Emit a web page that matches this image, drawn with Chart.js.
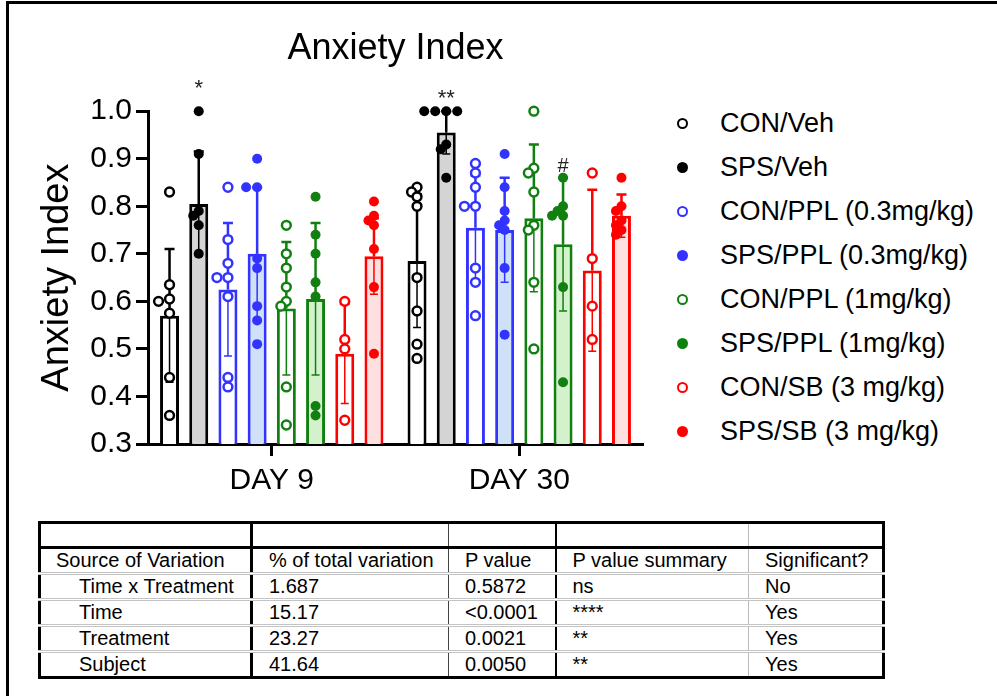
<!DOCTYPE html>
<html>
<head>
<meta charset="utf-8">
<script src="https://cdn.jsdelivr.net/npm/chart.js@4.4.0/dist/chart.umd.min.js"></script>
<style>
  body { margin: 0; background: #fff; font-family: "Liberation Sans", Arial, sans-serif; color: #000; }
  #frame { position: absolute; left: 6px; top: 1px; width: 1000px; height: 720px; border-left: 3px solid #000; border-top: 3px solid #000; }
  #chart { position: absolute; left: 0; top: 0; }
  #legend { position: absolute; left: 677px; top: 101px; }
  .item { height: 44.1px; display: flex; align-items: center; font-size: 27px; white-space: nowrap; }
  .dot { width: 7px; height: 7px; border-radius: 50%; border: 2.5px solid; margin-right: 32px; }
  #stats { position: absolute; left: 38px; top: 521px; border-collapse: collapse; table-layout: fixed; font-size: 20px; border: 3px solid #000; }
  #stats td { padding: 0 0 0 16px; height: 23px; white-space: nowrap; border-bottom: 3px double #c4c4c4; }
  #stats tr.blank td { height: 22px; border-bottom: 3px solid #000; }
  #stats tr:last-child td { border-bottom: 3px solid #000; }
  #stats td.c0 { border-right: 3px solid #000; padding-left: 15px; }
  #stats td.c1 { border-right: 1.5px solid #444; }
  #stats td.c2 { border-right: 2px solid #000; }
  #stats td.c3 { border-right: 1px solid #bbb; }
  #stats td.indent { padding-left: 38px; }
</style>
</head>
<body>
<div id="frame"></div>
<canvas id="chart" width="660" height="510"></canvas>
<div id="legend"></div>
<table id="stats"></table>
<script>
const categories = ["DAY 9", "DAY 30"];
const seriesNames = [
  "CON/Veh", "SPS/Veh",
  "CON/PPL (0.3mg/kg)", "SPS/PPL (0.3mg/kg)",
  "CON/PPL (1mg/kg)", "SPS/PPL (1mg/kg)",
  "CON/SB (3 mg/kg)", "SPS/SB (3 mg/kg)"
];
const lineColors = ["#000000", "#000000", "#3333ff", "#3333ff", "#118011", "#118011", "#ff0000", "#ff0000"];
const barFills = ["#ffffff", "#d4d4d4", "#ffffff", "#cfe0f9", "#ffffff", "#d3f2cc", "#ffffff", "#ffe0e0"];
const openMarker = [true, false, true, false, true, false, true, false];

// mean per series: [DAY 9, DAY 30]
const means = [
  [0.57, 0.685],
  [0.805, 0.955],
  [0.625, 0.755],
  [0.70, 0.75],
  [0.585, 0.775],
  [0.605, 0.72],
  [0.49, 0.665],
  [0.695, 0.78]
];
// SD per series: [DAY 9, DAY 30]
const sds = [
  [0.14, 0.14],
  [0.11, 0.045],
  [0.14, 0.11],
  [0.14, 0.11],
  [0.14, 0.155],
  [0.16, 0.14],
  [0.105, 0.17],
  [0.08, 0.045]
];
// individual animals per series: [DAY 9 values, DAY 30 values]
const individuals = [
  [[0.83, 0.635, 0.605, 0.60, 0.575, 0.44, 0.36], [0.84, 0.83, 0.82, 0.80, 0.65, 0.58, 0.51, 0.48]],
  [[1.0, 0.91, 0.79, 0.78, 0.76, 0.70], [1.0, 1.0, 1.0, 1.0, 0.93, 0.92, 0.86]],
  [[0.84, 0.73, 0.68, 0.65, 0.65, 0.61, 0.44, 0.42], [0.89, 0.87, 0.84, 0.80, 0.80, 0.67, 0.64, 0.57]],
  [[0.90, 0.84, 0.84, 0.69, 0.67, 0.59, 0.56, 0.51], [0.91, 0.84, 0.79, 0.77, 0.76, 0.75, 0.67, 0.53]],
  [[0.76, 0.70, 0.67, 0.63, 0.60, 0.59, 0.42, 0.34], [1.0, 0.88, 0.87, 0.83, 0.76, 0.75, 0.64, 0.50]],
  [[0.82, 0.74, 0.70, 0.64, 0.61, 0.38, 0.36], [0.86, 0.80, 0.79, 0.78, 0.78, 0.63, 0.43]],
  [[0.60, 0.52, 0.50, 0.35], [0.87, 0.69, 0.59, 0.52]],
  [[0.81, 0.78, 0.77, 0.76, 0.71, 0.63, 0.49], [0.86, 0.80, 0.79, 0.77, 0.76, 0.75, 0.74]]
];
// significance marks (value = text baseline on y axis)
const marks = [
  { series: 1, cat: 0, text: "*", value: 1.035 },
  { series: 1, cat: 1, text: "**", value: 1.014 },
  { series: 5, cat: 1, text: "#", value: 0.872 }
];

const tableHeader = ["Source of Variation", "% of total variation", "P value", "P value summary", "Significant?"];
const tableRows = [
  ["Time x Treatment", "1.687", "0.5872", "ns", "No"],
  ["Time", "15.17", "<0.0001", "****", "Yes"],
  ["Treatment", "23.27", "0.0021", "**", "Yes"],
  ["Subject", "41.64", "0.0050", "**", "Yes"]
];
const colWidths = [212, 197, 107, 193, 135];

Chart.defaults.font.family = '"Liberation Sans", Arial, sans-serif';
Chart.defaults.color = "#000";

// error bars, scattered individual points and significance marks
const overlayPlugin = {
  id: "overlay",
  afterDatasetsDraw(chart) {
    const { ctx } = chart;
    const y = chart.scales.y;
    chart.data.datasets.forEach((ds, k) => {
      const meta = chart.getDatasetMeta(k);
      meta.data.forEach((bar, i) => {
        const cx = bar.x;
        const yHi = y.getPixelForValue(means[k][i] + sds[k][i]);
        const yLo = y.getPixelForValue(means[k][i] - sds[k][i]);
        const yM = y.getPixelForValue(means[k][i]);
        ctx.save();
        ctx.strokeStyle = lineColors[k];
        ctx.lineWidth = 2.5;
        ctx.beginPath();
        ctx.moveTo(cx, yM); ctx.lineTo(cx, yHi);
        ctx.moveTo(cx - 5, yHi); ctx.lineTo(cx + 5, yHi);
        ctx.stroke();
        ctx.lineWidth = 1.5;
        ctx.beginPath();
        ctx.moveTo(cx, yM); ctx.lineTo(cx, yLo);
        ctx.moveTo(cx - 4, yLo); ctx.lineTo(cx + 4, yLo);
        ctx.stroke();

        // simple beeswarm so close values spread sideways
        const placed = [];
        individuals[k][i].forEach((v) => {
          const py = y.getPixelForValue(v);
          let off = 0;
          for (let n = 0; n < 15; n++) {
            const cand = n === 0 ? 0 : (n % 2 ? -1 : 1) * Math.ceil(n / 2) * 5.5;
            if (placed.every((p) => Math.hypot(p.x - cand, p.y - py) >= 6)) {
              off = cand;
              break;
            }
          }
          placed.push({ x: off, y: py });
          ctx.beginPath();
          ctx.arc(cx + off, py, openMarker[k] ? 4.4 : 5, 0, Math.PI * 2);
          if (openMarker[k]) {
            ctx.fillStyle = "#fff";
            ctx.fill();
            ctx.lineWidth = 2.5;
            ctx.strokeStyle = lineColors[k];
            ctx.stroke();
          } else {
            ctx.fillStyle = lineColors[k];
            ctx.fill();
          }
        });
        ctx.restore();
      });
    });

    marks.forEach((m) => {
      const bar = chart.getDatasetMeta(m.series).data[m.cat];
      ctx.save();
      ctx.fillStyle = "#222";
      ctx.font = (m.text === "#" ? "20px" : "22px") + ' "Liberation Sans", Arial, sans-serif';
      ctx.textAlign = "center";
      ctx.textBaseline = "alphabetic";
      ctx.fillText(m.text, bar.x, y.getPixelForValue(m.value));
      ctx.restore();
    });
  }
};

new Chart(document.getElementById("chart"), {
  type: "bar",
  data: {
    labels: categories,
    datasets: seriesNames.map((name, k) => ({
      label: name,
      data: means[k],
      backgroundColor: barFills[k],
      borderColor: lineColors[k],
      borderWidth: 3,
      borderSkipped: false,
      categoryPercentage: 0.944,
      barPercentage: 0.65
    }))
  },
  options: {
    responsive: false,
    animation: false,
    events: [],
    layout: { padding: { left: 0, right: 17, top: 0, bottom: 0 } },
    plugins: {
      legend: { display: false },
      tooltip: { enabled: false },
      title: {
        display: true,
        fullSize: false,
        text: "Anxiety Index",
        font: { size: 36, weight: "normal" },
        color: "#000",
        padding: { top: 27, bottom: 41 }
      }
    },
    scales: {
      x: {
        afterFit: (s) => { s.height = 66; },
        ticks: {
          autoSkip: false,
          maxRotation: 0,
          font: { size: 30 },
          color: "#000",
          padding: 7
        },
        grid: { offset: false, drawOnChartArea: false, tickLength: 12, tickWidth: 3, tickColor: "#000" },
        border: { color: "#000", width: 3 }
      },
      y: {
        min: 0.3,
        max: 1.0,
        afterFit: (s) => { s.width = 148; },
        ticks: {
          stepSize: 0.1,
          callback: (v) => v.toFixed(1),
          font: { size: 30 },
          color: "#000",
          padding: 4
        },
        grid: { drawOnChartArea: false, tickLength: 12, tickWidth: 3, tickColor: "#000" },
        border: { color: "#000", width: 3 },
        title: {
          display: true,
          text: "Anxiety Index",
          font: { size: 38 },
          color: "#000",
          padding: { top: 35, bottom: 0 }
        }
      }
    }
  },
  plugins: [overlayPlugin]
});

// legend
const legend = document.getElementById("legend");
seriesNames.forEach((name, k) => {
  const item = document.createElement("div");
  item.className = "item";
  const dot = document.createElement("span");
  dot.className = "dot";
  dot.style.borderColor = lineColors[k];
  dot.style.background = openMarker[k] ? "#fff" : lineColors[k];
  item.appendChild(dot);
  item.appendChild(document.createTextNode(name));
  legend.appendChild(item);
});

// ANOVA table
const table = document.getElementById("stats");
const colgroup = document.createElement("colgroup");
colWidths.forEach((w) => {
  const col = document.createElement("col");
  col.style.width = w + "px";
  colgroup.appendChild(col);
});
table.appendChild(colgroup);
const addRow = (cells, cls) => {
  const tr = document.createElement("tr");
  if (cls) tr.className = cls;
  cells.forEach((txt, c) => {
    const td = document.createElement("td");
    td.className = "c" + c + (cls === "data" && c === 0 ? " indent" : "");
    td.textContent = txt;
    tr.appendChild(td);
  });
  table.appendChild(tr);
};
addRow(["", "", "", "", ""], "blank");
addRow(tableHeader, "head");
tableRows.forEach((r) => addRow(r, "data"));
</script>
</body>
</html>
